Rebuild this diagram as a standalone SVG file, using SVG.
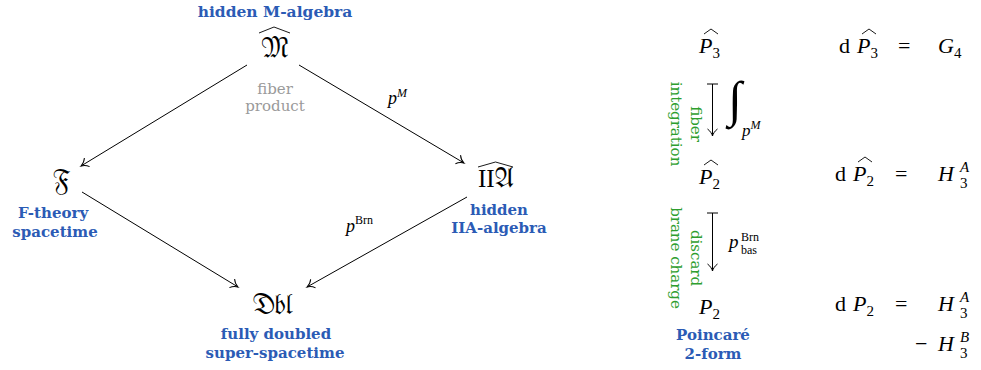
<svg xmlns="http://www.w3.org/2000/svg" width="981" height="370" viewBox="0 0 981 370" font-family="Liberation Serif, serif">
<defs>
<style>
.lbl{font-weight:bold;font-size:15px;fill:#2b5bb5;text-anchor:middle}
.gray{font-size:15px;fill:#9a9a9a;text-anchor:middle}
.grn{font-size:15px;fill:#2e9e2e;text-anchor:middle}
.frak{font-size:28px;fill:#000;text-anchor:middle}
.m{font-size:22px;fill:#000}
.i{font-style:italic}
.s{font-size:15px}
.ss{font-size:12px}
.edge{stroke:#000;stroke-width:1;fill:none}
.hat{stroke:#000;stroke-width:0.9;fill:none}
</style>
<marker id="to" markerUnits="userSpaceOnUse" markerWidth="14" markerHeight="14" refX="0" refY="0" viewBox="-8 -7 10 14" orient="auto">
<path d="M-7,-5 C-5,-2 -1.5,-0.4 0,0 C-1.5,0.4 -5,2 -7,5" fill="none" stroke="#000" stroke-width="1"/>
</marker>
</defs>

<g id="node-M">
<text class="lbl" x="275" y="17" font-family="DejaVu Serif, serif" style="font-size:15.5px">hidden M-algebra</text>
<text class="frak" x="275" y="57" font-family="DejaVu Serif, Noto Sans Math, serif">𝔐</text>
<path class="hat" d="M259,33 L274,27 L290,33"/>
</g>

<g id="node-F">
<text class="frak" x="62" y="189" font-family="DejaVu Serif, Noto Sans Math, serif">𝔉</text>
<text class="lbl" x="53" y="218" font-family="DejaVu Serif, serif">F-theory</text>
<text class="lbl" x="55" y="237" font-family="DejaVu Serif, serif">spacetime</text>
</g>

<g id="node-IIA">
<text class="frak" x="496" y="187"><tspan font-family="Liberation Serif, serif" font-size="25px">II</tspan><tspan font-family="DejaVu Serif, Noto Sans Math, serif">𝔄</tspan></text>
<path class="hat" d="M478,167 L495.5,162 L513,167"/>
<text class="lbl" x="499" y="215" font-family="DejaVu Serif, serif">hidden</text>
<text class="lbl" x="499" y="233" font-family="DejaVu Serif, serif">IIA-algebra</text>
</g>

<g id="node-Dbl">
<text class="frak" x="273" y="314" font-family="DejaVu Serif, Noto Sans Math, serif">𝔇𝔟𝔩</text>
<text class="lbl" x="276" y="339" font-family="DejaVu Serif, serif">fully doubled</text>
<text class="lbl" x="275" y="358" font-family="DejaVu Serif, serif">super-spacetime</text>
</g>

<g id="connectors">
<path class="edge" d="M247,65 L81,166" marker-end="url(#to)"/>
<path class="edge" d="M299,65 L464,163" marker-end="url(#to)"/>
<path class="edge" d="M82,192 L238,287" marker-end="url(#to)"/>
<path class="edge" d="M467,197 L307,287" marker-end="url(#to)"/>
<text class="gray" x="275" y="94" font-family="DejaVu Serif, serif">fiber</text>
<text class="gray" x="275" y="111" font-family="DejaVu Serif, serif">product</text>
<text class="m" x="388" y="104"><tspan class="i" style="font-size:18px">p</tspan><tspan class="i ss" dy="-7">M</tspan></text>
<text class="m" x="346" y="232"><tspan class="i" style="font-size:18px">p</tspan><tspan class="ss" dy="-8">Brn</tspan></text>
</g>

<g id="node-P3hat">
<text class="m" x="699" y="53"><tspan class="i">P</tspan><tspan class="s" dy="5">3</tspan></text>
<path class="hat" d="M704,34 L711,29 L718,34"/>
</g>
<g id="node-P2hat">
<text class="m" x="699" y="184"><tspan class="i">P</tspan><tspan class="s" dy="5">2</tspan></text>
<path class="hat" d="M704,165 L711,160 L718,165"/>
</g>
<g id="node-P2">
<text class="m" x="699" y="314"><tspan class="i">P</tspan><tspan class="s" dy="5">2</tspan></text>
<text class="lbl" x="713" y="340" font-family="DejaVu Serif, serif">Poincaré</text>
<text class="lbl" x="713" y="359" font-family="DejaVu Serif, serif">2-form</text>
</g>

<g id="right-connectors">
<path class="edge" d="M707,84 L718,84 M712.5,84 L712.5,136" marker-end="url(#to)"/>
<path class="edge" d="M707,213 L718,213 M712.5,213 L712.5,271" marker-end="url(#to)"/>
<text x="728" y="116" style="font-size:50px;font-style:italic">∫</text>
<text class="m" x="742" y="136"><tspan class="i" style="font-size:17px">p</tspan><tspan class="i ss" dy="-7">M</tspan></text>
<text class="m" x="729" y="248"><tspan class="i" style="font-size:19px">p</tspan></text>
<text class="m ss" x="741" y="241">Brn</text>
<text class="m ss" x="741" y="254">bas</text>
<text class="grn" transform="translate(691,124) rotate(90)" font-family="DejaVu Serif, serif">fiber</text>
<text class="grn" transform="translate(671,124) rotate(90)" font-family="DejaVu Serif, serif">integration</text>
<text class="grn" transform="translate(691,258) rotate(90)" font-family="DejaVu Serif, serif">discard</text>
<text class="grn" transform="translate(671,258) rotate(90)" font-family="DejaVu Serif, serif">brane charge</text>
</g>

<g id="equations">
<text class="m" x="839" y="53">d</text>
<text class="m" x="857" y="53"><tspan class="i">P</tspan><tspan class="s" dy="5">3</tspan></text>
<path class="hat" d="M862,34 L869,29 L876,34"/>
<text class="m" x="898" y="53">=</text>
<text class="m" x="938" y="53"><tspan class="i">G</tspan><tspan class="s" dy="5">4</tspan></text>

<text class="m" x="835" y="181">d</text>
<text class="m" x="853" y="181"><tspan class="i">P</tspan><tspan class="s" dy="5">2</tspan></text>
<path class="hat" d="M858,162 L865,157 L872,162"/>
<text class="m" x="895" y="181">=</text>
<text class="m i" x="938" y="181">H</text>
<text class="m s i" x="960" y="172">A</text>
<text class="m s" x="960" y="188">3</text>

<text class="m" x="835" y="311">d</text>
<text class="m" x="853" y="311"><tspan class="i">P</tspan><tspan class="s" dy="5">2</tspan></text>
<text class="m" x="895" y="311">=</text>
<text class="m i" x="938" y="311">H</text>
<text class="m s i" x="960" y="302">A</text>
<text class="m s" x="960" y="318">3</text>

<text class="m" x="915" y="351">−</text>
<text class="m i" x="938" y="351">H</text>
<text class="m s i" x="960" y="342">B</text>
<text class="m s" x="960" y="358">3</text>
</g>
</svg>
